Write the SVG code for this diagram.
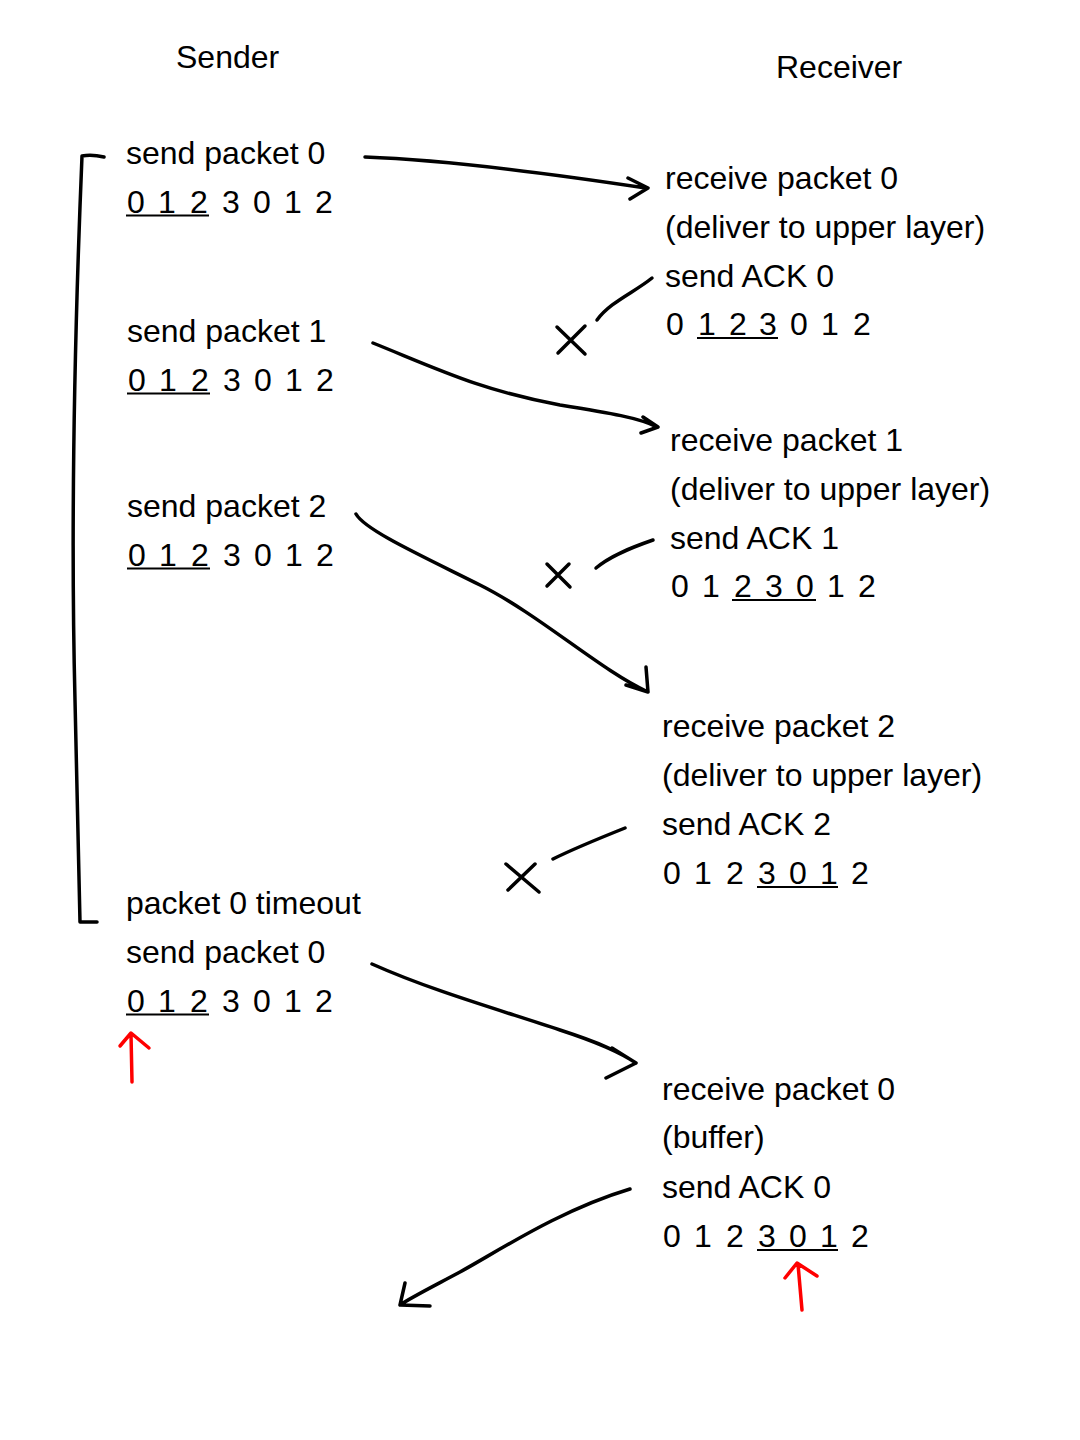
<svg xmlns="http://www.w3.org/2000/svg" width="1080" height="1440" viewBox="0 0 1080 1440">
<style>
text{font-family:"Liberation Sans","DejaVu Sans",sans-serif;font-size:32px;fill:#000}
.d{text-anchor:middle}
.ln{fill:none;stroke:#000;stroke-width:3.5;stroke-linecap:round;stroke-linejoin:round}
.ul{stroke:#000;stroke-width:2.2}
.red{fill:none;stroke:#f00;stroke-width:3.5;stroke-linecap:round;stroke-linejoin:round}
</style>
<rect width="1080" height="1440" fill="#fff"/>
<g id="titles">
<text x="176" y="68">Sender</text>
<text x="776" y="78">Receiver</text>
</g>
<g id="sender">
<g id="s1"><text x="126" y="164">send packet 0</text>
<text class="d" x="136 167 199 231 262 293 324" y="213">0123012</text>
<line class="ul" x1="126" y1="215.5" x2="209" y2="215.5"/></g>
<g id="s2"><text x="127" y="342">send packet 1</text>
<text class="d" x="137 168 200 232 263 294 325" y="391">0123012</text>
<line class="ul" x1="127" y1="393.5" x2="210" y2="393.5"/></g>
<g id="s3"><text x="127" y="517">send packet 2</text>
<text class="d" x="137 168 200 232 263 294 325" y="566">0123012</text>
<line class="ul" x1="127" y1="568.5" x2="210" y2="568.5"/></g>
<g id="s4"><text x="126" y="914">packet 0 timeout</text>
<text x="126" y="963">send packet 0</text>
<text class="d" x="136 167 199 231 262 293 324" y="1012">0123012</text>
<line class="ul" x1="126" y1="1014.5" x2="209" y2="1014.5"/>
<path class="red" d="M132,1082 L131,1034 M120,1046 L131,1033 L149,1048"/></g>
<path id="bracket" class="ln" d="M104,157 C95,155 88,155 82,156 C76,300 70,500 75,700 C77,800 79,880 80,922 L97,922"/>
</g>
<g id="receiver">
<g id="r1"><text x="665" y="189">receive packet 0</text>
<text x="665" y="238">(deliver to upper layer)</text>
<text x="665" y="287">send ACK 0</text>
<text class="d" x="675 707 738 768 799 830 862" y="335">0123012</text>
<line class="ul" x1="697" y1="338" x2="778" y2="338"/></g>
<g id="r2"><text x="670" y="451">receive packet 1</text>
<text x="670" y="500">(deliver to upper layer)</text>
<text x="670" y="549">send ACK 1</text>
<text class="d" x="680 711 743 774 805 836 867" y="597">0123012</text>
<line class="ul" x1="732" y1="600" x2="816" y2="600"/></g>
<g id="r3"><text x="662" y="737">receive packet 2</text>
<text x="662" y="786">(deliver to upper layer)</text>
<text x="662" y="835">send ACK 2</text>
<text class="d" x="672 703 735 767 798 829 860" y="884">0123012</text>
<line class="ul" x1="757" y1="887" x2="838" y2="887"/></g>
<g id="r4"><text x="662" y="1100">receive packet 0</text>
<text x="662" y="1148">(buffer)</text>
<text x="662" y="1198">send ACK 0</text>
<text class="d" x="672 703 735 767 798 829 860" y="1247">0123012</text>
<line class="ul" x1="757" y1="1250" x2="838" y2="1250"/>
<path class="red" d="M802,1310 L798,1264 M785,1278 L797,1263 L817,1276"/></g>
</g>
<g id="connectors">
<path class="ln" d="M365,157 C450,160 560,175 646,188 M628,178 L648,188 L630,199"/>
<path class="ln" d="M652,278 C635,292 610,302 597,320 M557,327 L585,354 M585,326 L558,353"/>
<path class="ln" d="M373,343 C440,370 480,390 560,405 C610,413 640,418 657,427 M643,417 L658,427 L641,433"/>
<path class="ln" d="M653,540 C630,548 610,556 596,568 M547,564 L570,587 M569,564 L547,586"/>
<path class="ln" d="M356,514 C365,530 420,555 480,585 C540,615 600,670 648,692 M646,667 L648,692 L626,685"/>
<path class="ln" d="M625,828 C600,838 575,848 553,859 M506,864 L539,892 M535,864 L508,890"/>
<path class="ln" d="M372,964 C430,990 500,1010 560,1030 C600,1043 620,1052 636,1063 M612,1048 L636,1063 L606,1078"/>
<path class="ln" d="M630,1189 C560,1210 500,1250 460,1272 C430,1288 410,1298 400,1305 M405,1283 L400,1305 L430,1306"/>
</g>
</svg>
